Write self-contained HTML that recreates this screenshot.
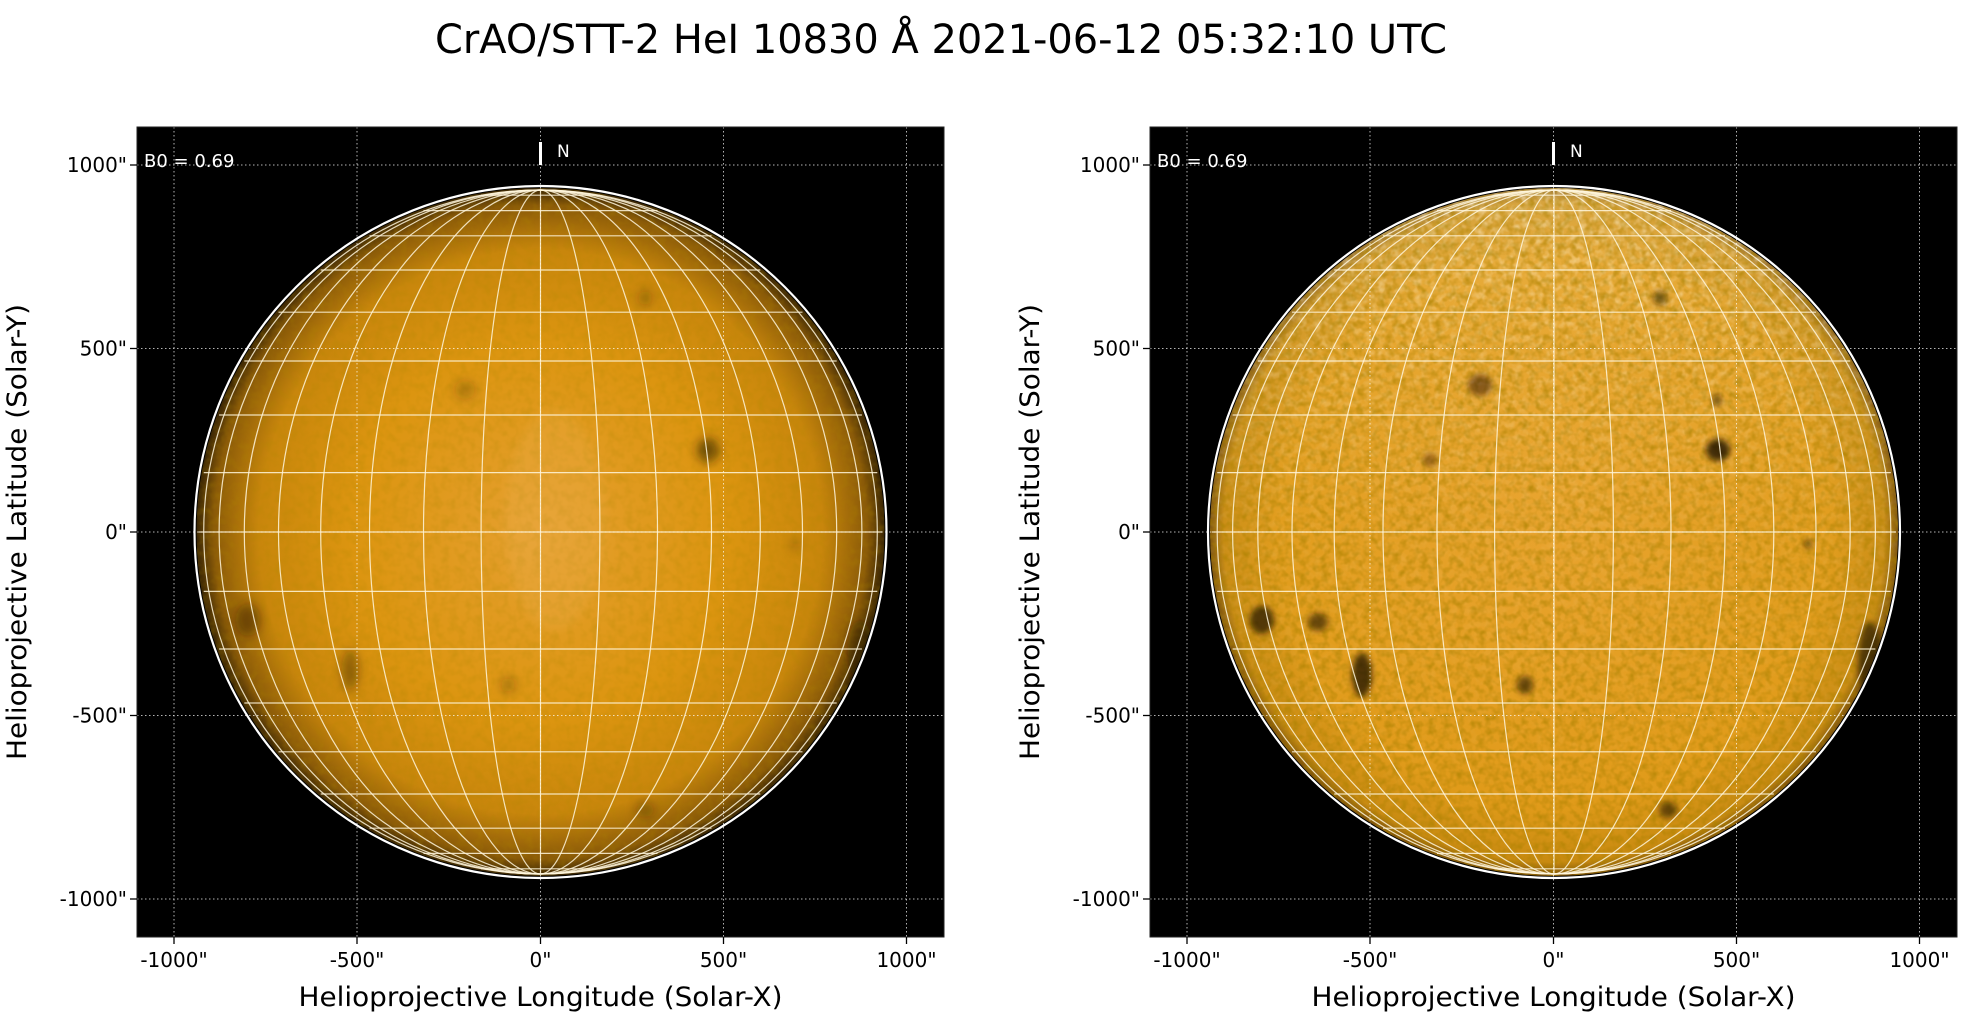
<!DOCTYPE html>
<html><head><meta charset="utf-8"><style>
html,body{margin:0;padding:0;background:#fff;}
svg{display:block;font-family:"DejaVu Sans","Liberation Sans",sans-serif;}
</style></head><body>
<svg width="1971" height="1026" viewBox="0 0 1971 1026" xmlns="http://www.w3.org/2000/svg">
<defs>
  <radialGradient id="limbL" cx="0.5" cy="0.5" r="0.5">
    <stop offset="0" stop-color="#e6a030"/>
    <stop offset="0.55" stop-color="#dc9510"/>
    <stop offset="0.82" stop-color="#c8860c"/>
    <stop offset="0.95" stop-color="#8a5a08"/>
    <stop offset="1" stop-color="#3a2604"/>
  </radialGradient>
  <radialGradient id="limbR" cx="0.5" cy="0.5" r="0.5">
    <stop offset="0" stop-color="#e7a028"/>
    <stop offset="0.8" stop-color="#e09a18"/>
    <stop offset="0.96" stop-color="#c88a10"/>
    <stop offset="1" stop-color="#7a5008"/>
  </radialGradient>
  <linearGradient id="topR" x1="0" y1="0" x2="0" y2="1">
    <stop offset="0" stop-color="#ffe9b8" stop-opacity="0.6"/>
    <stop offset="0.25" stop-color="#ffe0a0" stop-opacity="0.3"/>
    <stop offset="0.5" stop-color="#ffe0a0" stop-opacity="0.1"/>
    <stop offset="1" stop-color="#ffe0a0" stop-opacity="0"/>
  </linearGradient>
  <filter id="noiseL" x="0" y="0" width="100%" height="100%">
    <feTurbulence type="fractalNoise" baseFrequency="0.12" numOctaves="2" seed="3"/>
    <feColorMatrix type="matrix" values="0 0 0 0 0.42  0 0 0 0 0.24  0 0 0 0 0.0  1.4 0 0 0 -0.55"/>
  </filter>
  <filter id="noiseR" x="0" y="0" width="100%" height="100%">
    <feTurbulence type="fractalNoise" baseFrequency="0.14" numOctaves="2" seed="7"/>
    <feColorMatrix type="matrix" values="0 0 0 0 0.4  0 0 0 0 0.22  0 0 0 0 0.0  2.0 0 0 0 -0.8"/>
  </filter>
  <filter id="noiseW" x="0" y="0" width="100%" height="100%">
    <feTurbulence type="fractalNoise" baseFrequency="0.14" numOctaves="2" seed="11"/>
    <feColorMatrix type="matrix" values="0 0 0 0 1  0 0 0 0 0.93  0 0 0 0 0.75  2.2 0 0 0 -0.9"/>
  </filter>
  <mask id="topMask"><rect x="1200" y="180" width="700" height="700" fill="url(#topR)"/></mask>
  <filter id="bl" x="-50%" y="-50%" width="200%" height="200%"><feGaussianBlur stdDeviation="5"/></filter>
  <filter id="bl2" x="-50%" y="-50%" width="200%" height="200%"><feGaussianBlur stdDeviation="3"/></filter>
  <clipPath id="diskL"><circle cx="540.5" cy="532" r="344"/></clipPath>
  <clipPath id="diskR"><circle cx="1554" cy="532" r="344"/></clipPath>
  <clipPath id="axL"><rect x="137" y="127" width="807" height="810"/></clipPath>
  <clipPath id="axR"><rect x="1150" y="127" width="807" height="810"/></clipPath>
  <g id="grid">
    <g fill="none" stroke="#fff6dc" stroke-opacity="0.85" stroke-width="1.2">
      <line x1="0" y1="-342" x2="0" y2="342"/>
      <path d="M0,-342 A59.4,342 0 0 1 0,342 M0,-342 A59.4,342 0 0 0 0,342"/>
      <path d="M0,-342 A117,342 0 0 1 0,342 M0,-342 A117,342 0 0 0 0,342"/>
      <path d="M0,-342 A171,342 0 0 1 0,342 M0,-342 A171,342 0 0 0 0,342"/>
      <path d="M0,-342 A219.8,342 0 0 1 0,342 M0,-342 A219.8,342 0 0 0 0,342"/>
      <path d="M0,-342 A262,342 0 0 1 0,342 M0,-342 A262,342 0 0 0 0,342"/>
      <path d="M0,-342 A296.2,342 0 0 1 0,342 M0,-342 A296.2,342 0 0 0 0,342"/>
      <path d="M0,-342 A321.4,342 0 0 1 0,342 M0,-342 A321.4,342 0 0 0 0,342"/>
      <path d="M0,-342 A336.8,342 0 0 1 0,342 M0,-342 A336.8,342 0 0 0 0,342"/>
      <line x1="-342" y1="0" x2="342" y2="0"/>
      <line x1="-336.8" y1="-59.4" x2="336.8" y2="-59.4"/><line x1="-336.8" y1="59.4" x2="336.8" y2="59.4"/>
      <line x1="-321.4" y1="-117" x2="321.4" y2="-117"/><line x1="-321.4" y1="117" x2="321.4" y2="117"/>
      <line x1="-296.2" y1="-171" x2="296.2" y2="-171"/><line x1="-296.2" y1="171" x2="296.2" y2="171"/>
      <line x1="-262" y1="-219.8" x2="262" y2="-219.8"/><line x1="-262" y1="219.8" x2="262" y2="219.8"/>
      <line x1="-219.8" y1="-262" x2="219.8" y2="-262"/><line x1="-219.8" y1="262" x2="219.8" y2="262"/>
      <line x1="-171" y1="-296.2" x2="171" y2="-296.2"/><line x1="-171" y1="296.2" x2="171" y2="296.2"/>
      <line x1="-117" y1="-321.4" x2="117" y2="-321.4"/><line x1="-117" y1="321.4" x2="117" y2="321.4"/>
      <line x1="-59.4" y1="-336.8" x2="59.4" y2="-336.8"/><line x1="-59.4" y1="336.8" x2="59.4" y2="336.8"/>
    </g>
    <circle cx="0" cy="0" r="346" fill="none" stroke="#fff" stroke-width="2.2"/>
  </g>
  <g id="dots" stroke="#fff" stroke-opacity="0.7" stroke-width="1" stroke-dasharray="1.5,2.5">
    <line x1="37" y1="0" x2="37" y2="810"/><line x1="220" y1="0" x2="220" y2="810"/>
    <line x1="403.5" y1="0" x2="403.5" y2="810"/><line x1="586.5" y1="0" x2="586.5" y2="810"/>
    <line x1="769.5" y1="0" x2="769.5" y2="810"/>
    <line x1="0" y1="38" x2="807" y2="38"/><line x1="0" y1="221.5" x2="807" y2="221.5"/>
    <line x1="0" y1="405" x2="807" y2="405"/><line x1="0" y1="588.5" x2="807" y2="588.5"/>
    <line x1="0" y1="772" x2="807" y2="772"/>
  </g>
  <g id="ticks" font-size="20" fill="#000">
    <g stroke="#000" stroke-width="1.3">
      <line x1="37" y1="810" x2="37" y2="817"/><line x1="220" y1="810" x2="220" y2="817"/>
      <line x1="403.5" y1="810" x2="403.5" y2="817"/><line x1="586.5" y1="810" x2="586.5" y2="817"/>
      <line x1="769.5" y1="810" x2="769.5" y2="817"/>
      <line x1="0" y1="38" x2="-7" y2="38"/><line x1="0" y1="221.5" x2="-7" y2="221.5"/>
      <line x1="0" y1="405" x2="-7" y2="405"/><line x1="0" y1="588.5" x2="-7" y2="588.5"/>
      <line x1="0" y1="772" x2="-7" y2="772"/>
    </g>
    <g text-anchor="middle">
      <text x="37" y="840">-1000"</text><text x="220" y="840">-500"</text>
      <text x="403.5" y="840">0"</text><text x="586.5" y="840">500"</text>
      <text x="769.5" y="840">1000"</text>
    </g>
    <g text-anchor="end">
      <text x="-10" y="45">1000"</text><text x="-10" y="228.5">500"</text>
      <text x="-10" y="412">0"</text><text x="-10" y="595.5">-500"</text>
      <text x="-10" y="779">-1000"</text>
    </g>
    <text x="403.5" y="879" text-anchor="middle" font-size="27" textLength="484" lengthAdjust="spacingAndGlyphs">Helioprojective Longitude (Solar-X)</text>
    <text transform="translate(-111,405) rotate(-90)" text-anchor="middle" font-size="27" textLength="456" lengthAdjust="spacingAndGlyphs">Helioprojective Latitude (Solar-Y)</text>
    <line x1="403.5" y1="15" x2="403.5" y2="38" stroke="#fff" stroke-width="3"/>
    <text x="420" y="30" fill="#fff" font-size="17">N</text>
    <text x="7" y="40" fill="#fff" font-size="18">B0 = 0.69</text>
  </g>
</defs>

<text x="941" y="53" text-anchor="middle" font-size="40" textLength="1012" lengthAdjust="spacingAndGlyphs">CrAO/STT-2 HeI 10830 Å 2021-06-12 05:32:10 UTC</text>

<!-- LEFT PANEL -->
<rect x="137" y="127" width="807" height="810" fill="#000"/>
<g clip-path="url(#axL)">
  <circle cx="540.5" cy="532" r="344" fill="url(#limbL)"/>
  <g clip-path="url(#diskL)">
    <rect x="190" y="180" width="700" height="700" filter="url(#noiseL)" opacity="0.4"/>
    <ellipse cx="555" cy="520" rx="50" ry="110" fill="#f6c070" opacity="0.15" filter="url(#bl)"/>
    <g fill="#2a1a00" filter="url(#bl)">
      <ellipse cx="708" cy="450" rx="11" ry="12" opacity="0.6"/>
      <ellipse cx="248" cy="620" rx="12" ry="16" opacity="0.45"/>
      <ellipse cx="350" cy="670" rx="8" ry="20" opacity="0.4"/>
      <ellipse cx="645" cy="810" rx="9" ry="7" opacity="0.35"/>
      <ellipse cx="508" cy="685" rx="7" ry="7" opacity="0.3"/>
      <ellipse cx="465" cy="390" rx="10" ry="9" opacity="0.25"/>
      <ellipse cx="645" cy="298" rx="7" ry="7" opacity="0.3"/>
      <ellipse cx="860" cy="650" rx="12" ry="30" opacity="0.4"/>
      <ellipse cx="795" cy="545" rx="4" ry="4" opacity="0.35"/>
    </g>
  </g>
  <use href="#dots" x="137" y="127"/>
  <use href="#grid" x="540.5" y="532"/>
</g>
<rect x="137" y="127" width="807" height="810" fill="none" stroke="#222" stroke-width="1"/>
<use href="#ticks" x="137" y="127"/>

<!-- RIGHT PANEL -->
<rect x="1150" y="127" width="807" height="810" fill="#000"/>
<g clip-path="url(#axR)">
  <circle cx="1554" cy="532" r="344" fill="url(#limbR)"/>
  <g clip-path="url(#diskR)">
    <rect x="1200" y="180" width="700" height="700" filter="url(#noiseW)" mask="url(#topMask)"/>
    <rect x="1200" y="180" width="700" height="700" fill="url(#topR)" opacity="0.5"/>
    <rect x="1200" y="180" width="700" height="700" filter="url(#noiseR)" opacity="0.7"/>
    <g fill="#1a0e00" filter="url(#bl2)">
      <ellipse cx="1718" cy="450" rx="12" ry="11" opacity="0.8"/>
      <ellipse cx="1262" cy="620" rx="12" ry="14" opacity="0.7"/>
      <ellipse cx="1318" cy="622" rx="10" ry="9" opacity="0.6"/>
      <ellipse cx="1362" cy="675" rx="10" ry="22" opacity="0.75"/>
      <ellipse cx="1668" cy="810" rx="9" ry="8" opacity="0.6"/>
      <ellipse cx="1525" cy="685" rx="8" ry="9" opacity="0.6"/>
      <ellipse cx="1480" cy="385" rx="12" ry="11" opacity="0.45"/>
      <ellipse cx="1660" cy="298" rx="7" ry="7" opacity="0.5"/>
      <ellipse cx="1717" cy="400" rx="4" ry="6" opacity="0.6"/>
      <ellipse cx="1870" cy="660" rx="12" ry="38" opacity="0.65"/>
      <ellipse cx="1808" cy="544" rx="4" ry="4" opacity="0.6"/>
      <ellipse cx="1430" cy="460" rx="7" ry="7" opacity="0.35"/>
    </g>
  </g>
  <use href="#dots" x="1150" y="127"/>
  <use href="#grid" x="1554" y="532"/>
</g>
<rect x="1150" y="127" width="807" height="810" fill="none" stroke="#222" stroke-width="1"/>
<use href="#ticks" x="1150" y="127"/>
</svg>
</body></html>
